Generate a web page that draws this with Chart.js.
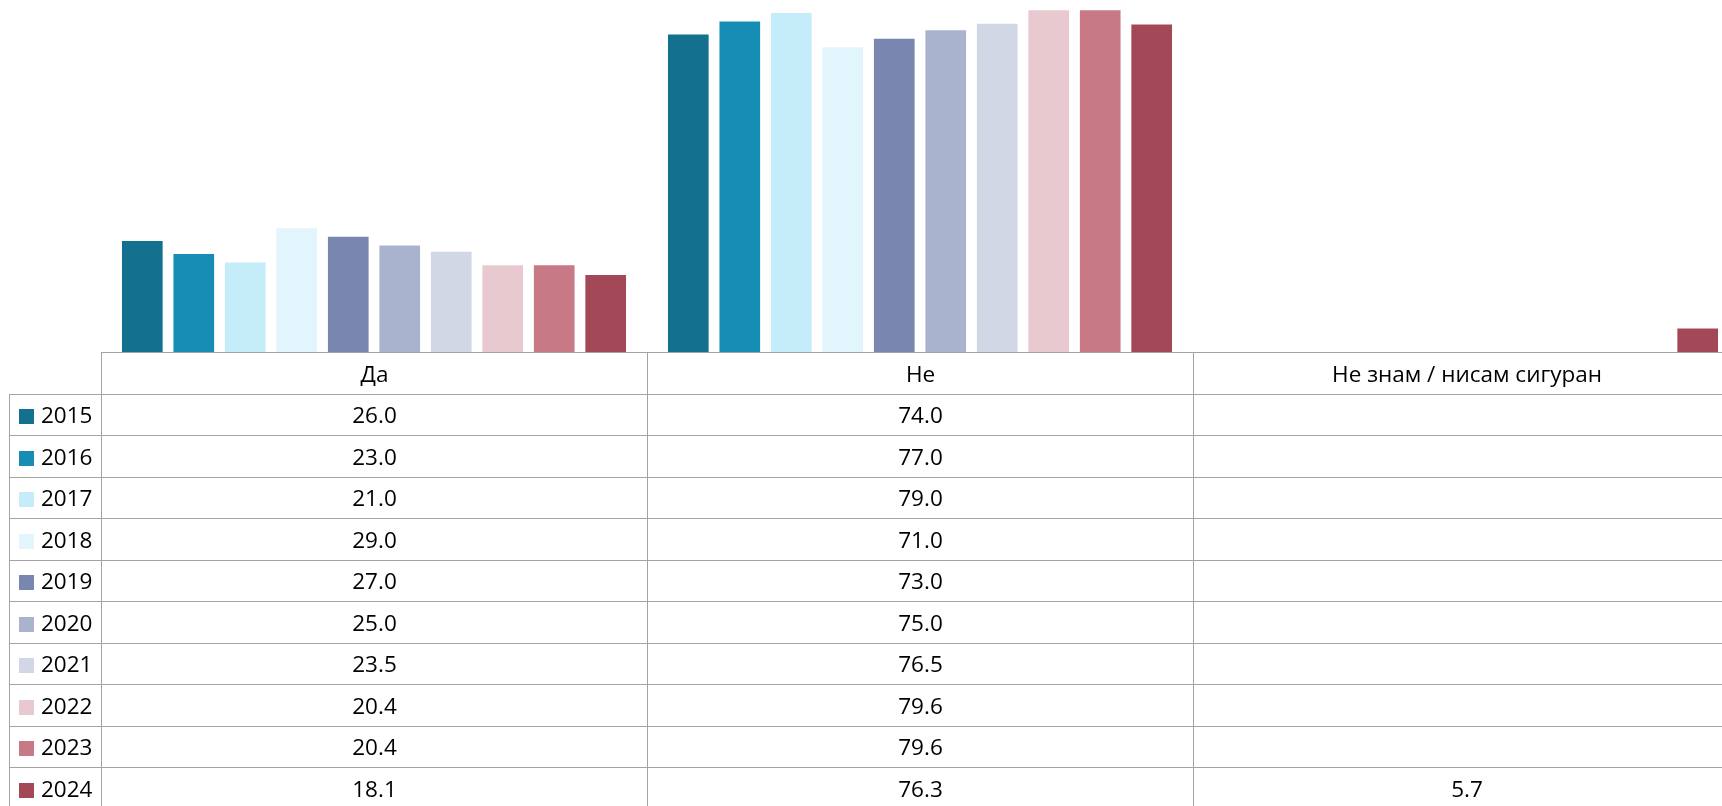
<!DOCTYPE html>
<html lang="sr">

<head>
  <meta charset="UTF-8" />
  <title>Да / Не</title>
  <script src="https://cdn.jsdelivr.net/npm/chart.js"></script>
  <style>
    html, body {
      margin: 0;
      padding: 0;
      width: 1722px;
      height: 806px;
      overflow: hidden;
      background: #fff;
      font-family: "Open Sans", sans-serif;
    }

    #graficoBarras {
      position: absolute;
      left: 0;
      top: 0;
    }

    #tabela {
      position: absolute;
      left: 9px;
      top: 352px;
      width: 1731px;
      border-collapse: collapse;
      table-layout: fixed;
      font-size: 22.5px;
      color: #000;
    }

    #tabela td {
      border: 1px solid #a3a3a3;
      height: 40.5px;
      padding: 0;
      text-align: center;
      white-space: nowrap;
    }

    #tabela td.vazio {
      border-top: none;
      border-left: none;
    }

    #tabela td.ano {
      text-align: left;
      padding-left: 9px;
    }

    .marcador {
      display: inline-block;
      width: 15px;
      height: 15px;
      margin-right: 7px;
      vertical-align: -1px;
    }
  </style>
</head>

<body>
  <canvas id="graficoBarras" width="1760" height="353"></canvas>
  <table id="tabela"></table>

  <script>
    const categorias = ["Да", "Не", "Не знам / нисам сигуран"];
    const anos = ["2015", "2016", "2017", "2018", "2019", "2020", "2021", "2022", "2023", "2024"];
    const valoresDa = [26.0, 23.0, 21.0, 29.0, 27.0, 25.0, 23.5, 20.4, 20.4, 18.1];
    const valoresNe = [74.0, 77.0, 79.0, 71.0, 73.0, 75.0, 76.5, 79.6, 79.6, 76.3];
    const valoresNeznam = [null, null, null, null, null, null, null, null, null, 5.7];
    const cores = ["#13718f", "#168db4", "#c4ecf9", "#e3f5fc", "#7886b0",
      "#aab3ce", "#d1d7e5", "#e8c9d0", "#c77985", "#a34857"];

    const datasets = anos.map((ano, i) => ({
      label: ano,
      data: [valoresDa[i], valoresNe[i], valoresNeznam[i]],
      backgroundColor: cores[i],
      borderWidth: 0,
      categoryPercentage: 0.943,
      barPercentage: 0.79
    }));

    const config = {
      type: 'bar',
      data: { labels: categorias, datasets: datasets },
      options: {
        responsive: false,
        animation: false,
        layout: { padding: { left: 101, right: 21, top: 0, bottom: 0 } },
        scales: {
          x: { display: false },
          y: { display: false, min: 0, max: 82 }
        },
        plugins: {
          legend: { display: false },
          tooltip: { enabled: false }
        }
      }
    };

    const graficoBarras = new Chart(document.getElementById('graficoBarras'), config);

    // tabela de dados embaixo do grafico
    function formatar(v) {
      return v === null ? "" : v.toFixed(1);
    }

    function montarTabela() {
      let html = `
        <colgroup>
          <col style="width:92px">
          <col style="width:546px">
          <col style="width:546px">
          <col style="width:547px">
        </colgroup>
        <tr>
          <td class="vazio"></td>
          <td>${categorias[0]}</td>
          <td>${categorias[1]}</td>
          <td>${categorias[2]}</td>
        </tr>`;
      for (let i = 0; i < anos.length; i++) {
        html += `
        <tr>
          <td class="ano"><span class="marcador" style="background:${cores[i]}"></span>${anos[i]}</td>
          <td>${formatar(valoresDa[i])}</td>
          <td>${formatar(valoresNe[i])}</td>
          <td>${formatar(valoresNeznam[i])}</td>
        </tr>`;
      }
      tabela.innerHTML = html;
    }

    montarTabela();
  </script>
</body>

</html>
